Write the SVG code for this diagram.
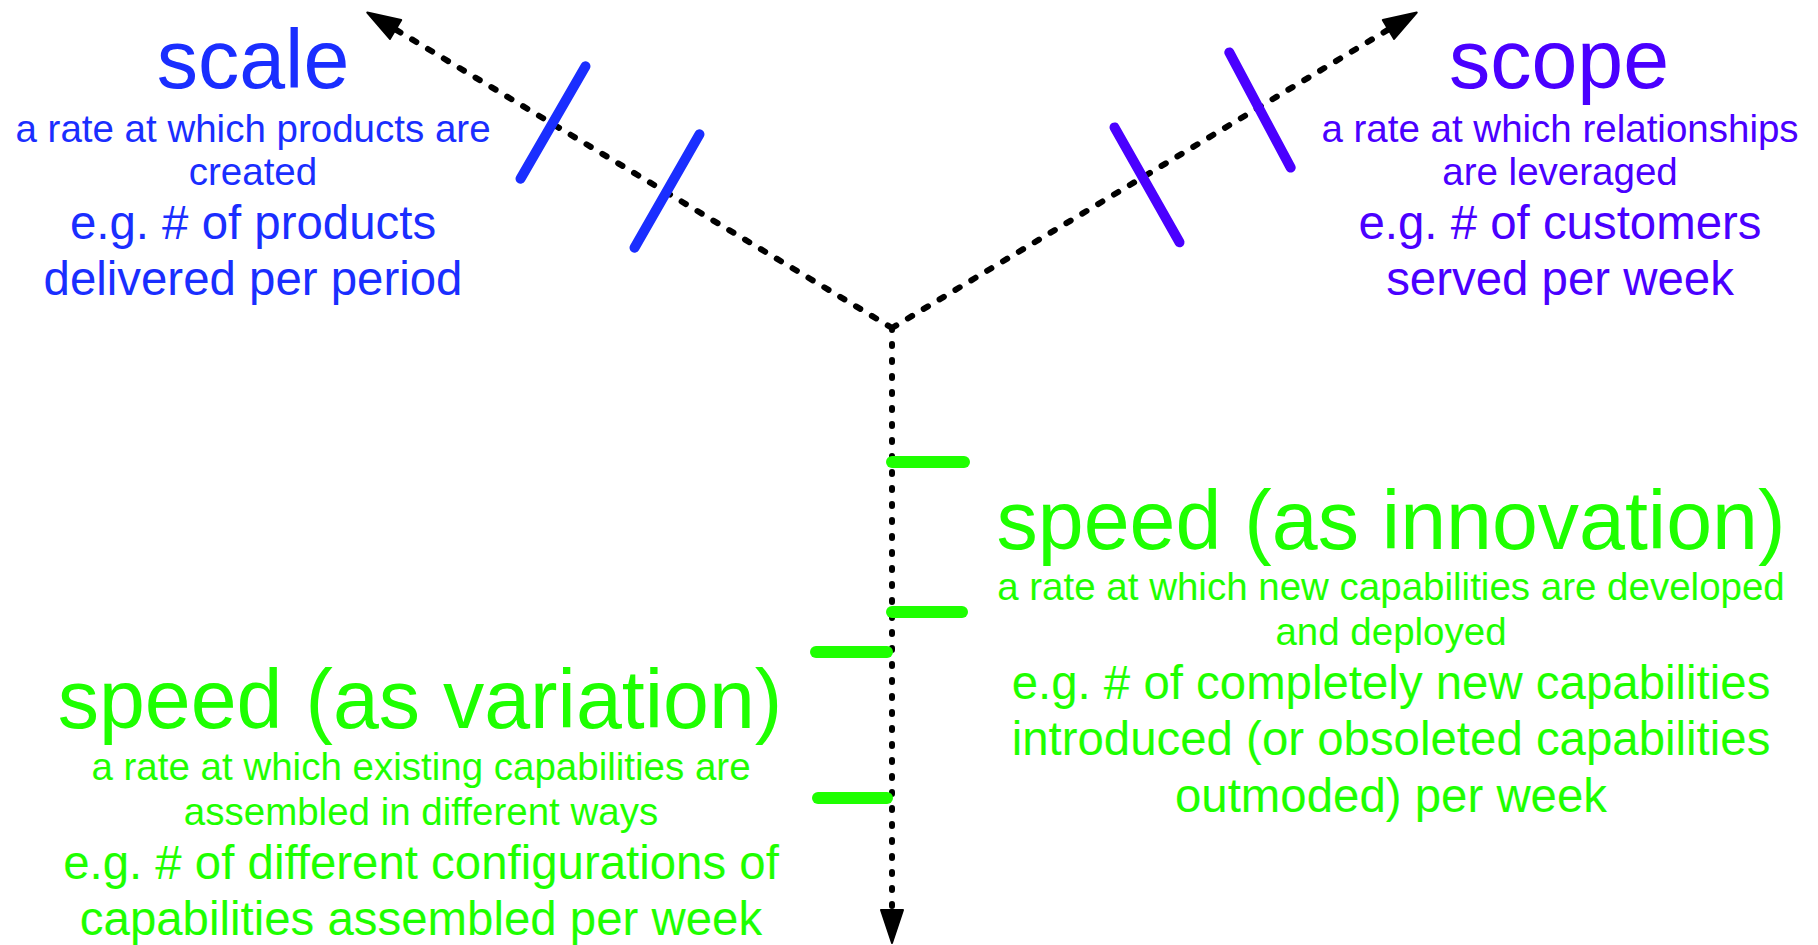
<svg xmlns="http://www.w3.org/2000/svg" width="1818" height="945" viewBox="0 0 1818 945">
<style>
text{font-family:"Liberation Sans",Arial,sans-serif;text-anchor:middle}
.t{font-size:82.5px}.s{font-size:38.5px}.e{font-size:47.4px}
.blue{fill:#1a2eff}.purple{fill:#4a00ff}.green{fill:#1eff00}
.dash{fill:none;stroke:#000;stroke-width:6;stroke-linecap:round}
.diag{stroke-dasharray:5 13.5}.vert{stroke-dasharray:2 14}
.tb{stroke:#1a2eff;stroke-width:10;stroke-linecap:round}
.tp{stroke:#4a00ff;stroke-width:10;stroke-linecap:round}
.tg{stroke:#1eff00;stroke-width:12;stroke-linecap:round}
</style>
<defs>
<marker id="ah" markerUnits="userSpaceOnUse" markerWidth="40" markerHeight="30" refX="1" refY="12" orient="auto" overflow="visible">
<path d="M0,1 L33,12 L0,23 Z" fill="#000" stroke="#000" stroke-width="2" stroke-linejoin="round"/>
</marker>
</defs>
<g id="connectors">
<path class="dash diag" d="M892,328 L394.7,29" marker-end="url(#ah)"/>
<path class="dash diag" d="M892,328 L1389.3,29" marker-end="url(#ah)"/>
<path class="dash vert" d="M892,328 L892,911" marker-end="url(#ah)"/>
</g>
<g id="ticks">
<line class="tb" x1="520.5" y1="178.7" x2="585.5" y2="66.3"/>
<line class="tb" x1="634.5" y1="247.7" x2="699.5" y2="134.3"/>
<line class="tp" x1="1114.5" y1="127.4" x2="1179.5" y2="242.3"/>
<line class="tp" x1="1229.3" y1="52.4" x2="1290.7" y2="167.6"/>
<line class="tg" x1="892" y1="462" x2="964" y2="462"/>
<line class="tg" x1="892" y1="612" x2="962" y2="612"/>
<line class="tg" x1="816" y1="652" x2="887" y2="652"/>
<line class="tg" x1="818" y1="798" x2="887" y2="798"/>
</g>
<g id="scale" class="blue">
<text class="t" x="253" y="88">scale</text>
<text class="s" x="253" y="142">a rate at which products are</text>
<text class="s" x="253" y="185">created</text>
<text class="e" x="253" y="239">e.g. # of products</text>
<text class="e" x="253" y="295">delivered per period</text>
</g>
<g id="scope" class="purple">
<text class="t" x="1559" y="88">scope</text>
<text class="s" x="1560" y="142">a rate at which relationships</text>
<text class="s" x="1560" y="185">are leveraged</text>
<text class="e" x="1560" y="239">e.g. # of customers</text>
<text class="e" x="1560" y="295">served per week</text>
</g>
<g id="speed-innovation" class="green">
<text class="t" x="1391" y="549">speed (as innovation)</text>
<text class="s" x="1391" y="600">a rate at which new capabilities are developed</text>
<text class="s" x="1391" y="645">and deployed</text>
<text class="e" x="1391" y="699">e.g. # of completely new capabilities</text>
<text class="e" x="1391" y="755">introduced (or obsoleted capabilities</text>
<text class="e" x="1391" y="812">outmoded) per week</text>
</g>
<g id="speed-variation" class="green">
<text class="t" x="420" y="728">speed (as variation)</text>
<text class="s" x="421" y="780">a rate at which existing capabilities are</text>
<text class="s" x="421" y="825">assembled in different ways</text>
<text class="e" x="421" y="879">e.g. # of different configurations of</text>
<text class="e" x="421" y="935">capabilities assembled per week</text>
</g>
</svg>
